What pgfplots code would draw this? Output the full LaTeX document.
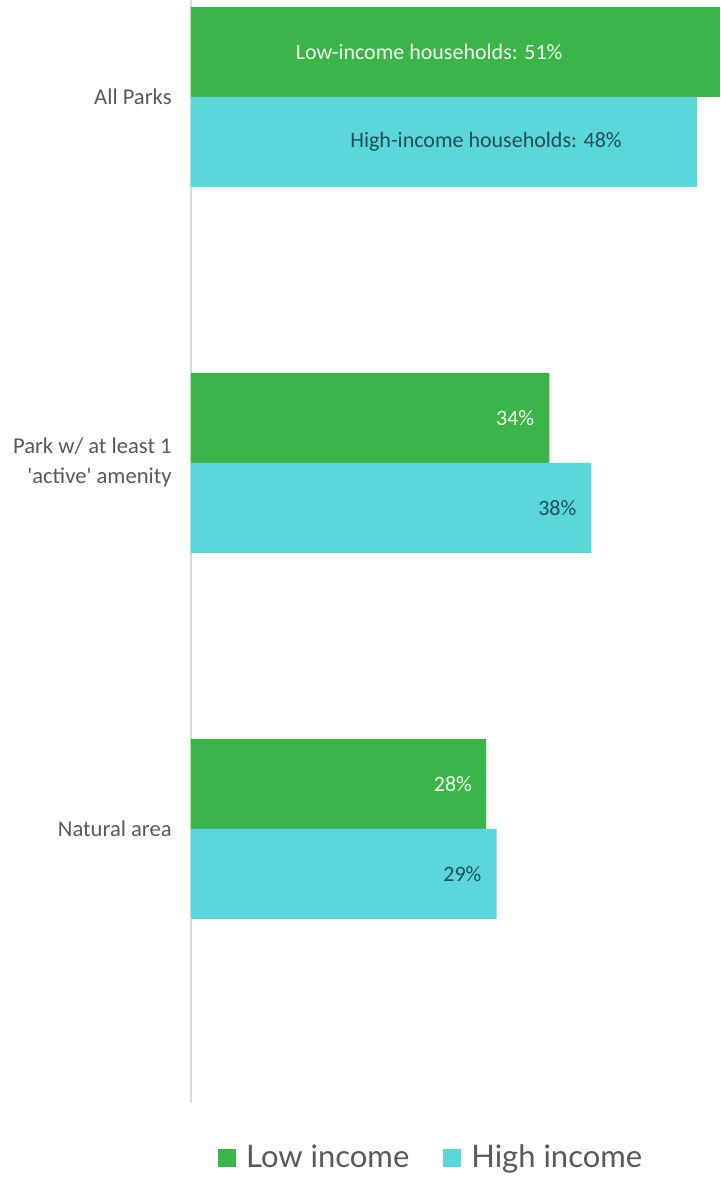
\documentclass[border=0pt]{standalone}
\usepackage{pgfplots}
\pgfplotsset{compat=1.18}
\usepackage{fontspec}
\setmainfont{Carlito}
\newfontfamily\legendfont{Lato}
\definecolor{lowc}{HTML}{3BB54A}
\definecolor{highc}{HTML}{5CD7D9}
\definecolor{txtgrey}{HTML}{595959}
\definecolor{darklbl}{HTML}{1F4F5C}
\definecolor{whitelbl}{HTML}{F0FFEC}
\definecolor{axisgrey}{HTML}{D9D9D9}
\begin{document}
\begin{tikzpicture}
\begin{axis}[
  scale only axis, width=264.5pt, height=551.5pt,
  xbar, bar width=0.246,
  y dir=reverse,
  xmin=0, xmax=50.2, ymin=-0.265, ymax=2.749,
  axis x line=none,
  axis y line=left,
  axis line style={-, draw=axisgrey, line width=0.6pt},
  ytick={0,1,2},
  yticklabels={All Parks, {Park w/ at least 1\\\textquotesingle active\textquotesingle\ amenity}, Natural area},
  yticklabel style={align=right, font=\fontsize{11.3}{15}\selectfont, text=txtgrey, inner sep=0pt, xshift=-9.5pt},
  major tick length=0pt,
  legend style={draw=none, fill=none, at={(0.456,-0.0499)}, anchor=center,
    legend columns=2, font=\legendfont\fontsize{15.5}{18}\selectfont, text=txtgrey,
    /tikz/every odd column/.append style={column sep=3pt},
    /tikz/every even column/.append style={column sep=15pt}},
  legend cell align=left,
  legend image code/.code={\fill[#1] (0pt,-4.5pt) rectangle (9pt,4.5pt);},
]
\addplot[fill=lowc, draw=none, bar shift=-0.123] coordinates {(51,0) (34,1) (28,2)};
\addlegendentry{Low income}
\addplot[fill=highc, draw=none, bar shift=0.123] coordinates {(48,0) (38,1) (29,2)};
\addlegendentry{High income}
\coordinate (tl) at (axis description cs:0,1);
\node[text=whitelbl, font=\fontsize{11}{13}\selectfont] at (axis cs:22.6,-0.123) {Low-income households: 51\%};
\node[text=darklbl, font=\fontsize{11}{13}\selectfont] at (axis cs:28.0,0.123) {High-income households: 48\%};
\node[text=whitelbl, font=\fontsize{11}{13}\selectfont, anchor=east, inner sep=0pt] at (axis cs:32.6,0.877) {34\%};
\node[text=darklbl, font=\fontsize{11}{13}\selectfont, anchor=east, inner sep=0pt] at (axis cs:36.6,1.123) {38\%};
\node[text=whitelbl, font=\fontsize{11}{13}\selectfont, anchor=east, inner sep=0pt] at (axis cs:26.7,1.877) {28\%};
\node[text=darklbl, font=\fontsize{11}{13}\selectfont, anchor=east, inner sep=0pt] at (axis cs:27.6,2.123) {29\%};
\end{axis}
\pgfresetboundingbox
\path (tl) ++(-95.5pt,0pt) rectangle ++(360pt,-588.5pt);
\end{tikzpicture}
\end{document}
